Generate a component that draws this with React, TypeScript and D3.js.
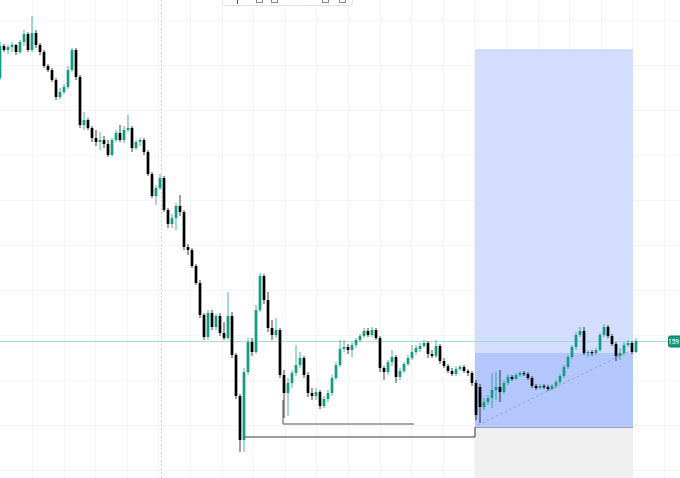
import { useEffect, useRef } from 'react';
import * as d3 from 'd3';

// candles: [open, high, low, close]
const candles: [number, number, number, number][] = [
  [422, 458, 420, 454], [454, 456, 448, 450], [450, 455, 446, 453], [453, 458, 448, 455],
  [455, 456, 445, 448], [448, 460, 446, 458], [458, 470, 454, 466], [466, 468, 448, 450],
  [450, 484, 448, 467], [467, 470, 452, 455], [455, 457, 445, 448], [448, 450, 432, 434],
  [434, 436, 428, 430], [430, 432, 418, 420], [420, 422, 400, 403], [403, 412, 401, 408],
  [408, 416, 406, 413], [413, 434, 411, 430], [430, 452, 428, 450], [450, 452, 420, 423],
  [423, 425, 372, 375], [375, 388, 370, 380], [380, 382, 370, 372], [372, 374, 358, 362],
  [362, 370, 354, 358], [358, 368, 350, 360], [360, 364, 352, 356], [356, 360, 343, 345],
  [345, 362, 344, 360], [360, 370, 358, 367], [367, 375, 358, 360], [360, 374, 357, 370],
  [370, 385, 368, 372], [372, 374, 348, 352], [352, 360, 350, 358], [358, 362, 354, 360],
  [360, 362, 345, 348], [348, 350, 324, 326], [326, 328, 302, 304], [304, 315, 295, 312],
  [312, 326, 310, 322], [322, 324, 288, 290], [290, 292, 272, 276], [276, 286, 272, 282],
  [282, 297, 270, 294], [294, 305, 284, 288], [288, 290, 250, 253], [253, 256, 245, 250],
  [250, 252, 232, 234], [234, 236, 215, 217], [217, 220, 182, 185], [185, 187, 160, 163],
  [163, 190, 160, 187], [187, 190, 170, 173], [173, 186, 170, 184], [184, 187, 164, 167],
  [167, 178, 160, 162], [162, 208, 160, 184], [184, 188, 142, 145], [145, 147, 101, 104],
  [104, 106, 48, 60], [60, 132, 48, 128], [128, 162, 125, 158], [158, 162, 144, 148],
  [148, 195, 146, 190], [190, 227, 188, 224], [224, 226, 196, 200], [200, 208, 168, 172],
  [172, 180, 160, 165], [165, 182, 162, 170], [170, 172, 122, 125], [125, 130, 82, 107],
  [107, 122, 84, 117], [117, 130, 112, 127], [127, 155, 124, 135], [135, 148, 132, 142],
  [142, 144, 122, 125], [125, 128, 103, 107], [107, 112, 100, 104], [104, 112, 100, 108],
  [108, 110, 91, 94], [94, 104, 92, 101], [101, 110, 98, 107], [107, 125, 104, 122],
  [122, 138, 120, 135], [135, 160, 133, 151], [151, 160, 148, 153], [153, 156, 146, 150],
  [150, 158, 143, 155], [155, 162, 152, 160], [160, 166, 158, 164], [164, 172, 162, 169],
  [169, 172, 163, 165], [165, 173, 163, 170], [170, 172, 160, 162], [162, 164, 128, 132],
  [132, 134, 120, 128], [128, 140, 125, 138], [138, 150, 134, 143], [143, 145, 117, 123],
  [123, 132, 120, 129], [129, 138, 127, 136], [136, 145, 134, 142], [142, 155, 140, 148],
  [148, 155, 145, 152], [151, 157, 148, 154], [154, 160, 152, 157], [157, 159, 142, 146],
  [146, 150, 142, 144], [144, 160, 142, 154], [154, 156, 136, 139], [139, 142, 132, 134],
  [134, 136, 127, 129], [129, 132, 124, 126], [126, 134, 124, 131], [131, 135, 129, 133],
  [133, 135, 127, 129], [129, 131, 124, 127], [127, 129, 114, 117], [117, 120, 80, 85],
  [113, 116, 77, 93], [93, 102, 90, 98], [98, 105, 95, 102], [102, 127, 92, 110],
  [110, 128, 100, 113], [113, 130, 98, 108], [108, 120, 106, 117], [117, 126, 115, 123],
  [123, 125, 119, 121], [121, 127, 120, 125], [125, 129, 123, 127], [127, 129, 124, 126],
  [126, 128, 120, 122], [122, 124, 112, 114], [114, 116, 110, 112], [112, 116, 111, 114],
  [114, 116, 111, 113], [113, 115, 109, 111], [111, 116, 110, 114], [114, 120, 112, 118],
  [118, 126, 116, 124], [124, 135, 122, 133], [133, 145, 131, 143], [143, 155, 141, 153],
  [153, 168, 150, 165], [165, 173, 163, 169], [169, 173, 145, 147], [147, 150, 143, 148],
  [148, 150, 144, 147], [147, 152, 145, 150], [150, 167, 148, 165], [165, 176, 163, 173],
  [173, 175, 162, 164], [164, 166, 154, 156], [156, 158, 139, 144], [144, 152, 140, 147],
  [147, 158, 145, 155], [155, 160, 153, 157], [157, 159, 146, 148], [148, 162, 147, 159],
];

const priceGrid = [480, 435, 390, 345, 300, 255, 210, 165, 120, 75, 30];
const timeGrid = [8, 15.9, 23.8, 31.7, 39.6, 47.5, 55.4, 63.3, 71.2, 79.1, 87, 94.9, 102.8,
  110.7, 118.6, 126.5, 134.4, 142.3, 150.2, 158.1, 166];
const sessionBreak = 40.25;

// long position tool (bar index / price)
const posStart = 118.75;
const posEnd = 158.25;
const posTarget = 450;
const posEntry = 147;
const posStop = 73;

// drawn support lines
const lowLine = { from: 60.75, to: 118.75, price: 63, up: 73 };
const midLine = { from: 70.75, to: 103.5, price: 76, up: 100 };
const trendLine = { from: 119.5, fromPrice: 75, to: 157, toPrice: 148 };

const UP = '#129c84';
const DOWN = '#000000';

export default function App() {
  const svgRef = useRef<SVGSVGElement>(null);

  useEffect(() => {
    if (!svgRef.current) return;
    const svg = d3.select(svgRef.current);
    svg.selectAll('*').remove();

    const width = 680;
    const height = 478;

    const x = d3.scaleLinear().domain([0, candles.length - 1]).range([0, 636]);
    const y = d3.scaleLinear().domain([500, 22]).range([0, height]);

    svg.append('rect').attr('width', width).attr('height', height).attr('fill', '#ffffff');

    // grid
    svg.append('g')
      .selectAll('line')
      .data(priceGrid)
      .enter()
      .append('line')
      .attr('x1', 0).attr('x2', width)
      .attr('y1', d => Math.round(y(d)) + 0.5).attr('y2', d => Math.round(y(d)) + 0.5)
      .attr('stroke', '#f3f4f6');

    svg.append('g')
      .selectAll('line')
      .data(timeGrid)
      .enter()
      .append('line')
      .attr('y1', 0).attr('y2', height)
      .attr('x1', d => Math.round(x(d)) + 0.5).attr('x2', d => Math.round(x(d)) + 0.5)
      .attr('stroke', '#f3f4f6');

    // session break
    svg.append('line')
      .attr('x1', Math.round(x(sessionBreak)) + 0.5).attr('x2', Math.round(x(sessionBreak)) + 0.5)
      .attr('y1', 0).attr('y2', height)
      .attr('stroke', '#d3d6dc')
      .attr('stroke-dasharray', '2,2');

    // long position box
    const bx = x(posStart);
    const bw = x(posEnd) - x(posStart);
    svg.append('rect')
      .attr('x', bx).attr('y', y(posTarget))
      .attr('width', bw).attr('height', y(posEntry) - y(posTarget))
      .attr('fill', '#d3defe');
    svg.append('line')
      .attr('x1', bx).attr('x2', bx + bw)
      .attr('y1', y(posTarget)).attr('y2', y(posTarget))
      .attr('stroke', '#b9cafc');
    svg.append('rect')
      .attr('x', bx).attr('y', y(posEntry))
      .attr('width', bw).attr('height', y(posStop) - y(posEntry))
      .attr('fill', '#b3c7fd');
    svg.append('rect')
      .attr('x', bx).attr('y', y(posStop))
      .attr('width', bw).attr('height', height - y(posStop))
      .attr('fill', '#efefef');
    svg.append('line')
      .attr('x1', bx).attr('x2', bx + bw)
      .attr('y1', Math.round(y(posStop)) + 0.5).attr('y2', Math.round(y(posStop)) + 0.5)
      .attr('stroke', '#9aa3b8');

    // last price line
    const last = candles[candles.length - 1][3];
    const ly = Math.round(y(last)) + 0.5;
    svg.append('line')
      .attr('x1', 0).attr('x2', width)
      .attr('y1', ly).attr('y2', ly)
      .attr('stroke', '#93d6c8')
      .attr('stroke-opacity', 0.8);

    // drawn lines
    const lineColor = '#3a3a3a';
    svg.append('path')
      .attr('d', `M${x(lowLine.from)},${y(lowLine.price)}H${x(lowLine.to)}V${y(lowLine.up)}`)
      .attr('fill', 'none').attr('stroke', lineColor).attr('stroke-width', 1);
    svg.append('path')
      .attr('d', `M${x(midLine.from)},${y(midLine.up)}V${y(midLine.price)}H${x(midLine.to)}`)
      .attr('fill', 'none').attr('stroke', '#555555').attr('stroke-width', 1);
    svg.append('line')
      .attr('x1', x(trendLine.from)).attr('y1', y(trendLine.fromPrice))
      .attr('x2', x(trendLine.to)).attr('y2', y(trendLine.toPrice))
      .attr('stroke', '#8e9ab8')
      .attr('stroke-dasharray', '2,3');

    // candles
    const g = svg.append('g');
    const cw = 2.7;
    candles.forEach((c, i) => {
      const [o, h, l, cl] = c;
      const color = cl >= o ? UP : DOWN;
      const cx = x(i);
      g.append('line')
        .attr('x1', cx).attr('x2', cx)
        .attr('y1', y(h)).attr('y2', y(l))
        .attr('stroke', color)
        .attr('stroke-opacity', 0.75)
        .attr('stroke-width', 1);
      const top = y(Math.max(o, cl));
      const bh = Math.max(1.2, Math.abs(y(o) - y(cl)));
      g.append('rect')
        .attr('x', cx - cw / 2).attr('y', top)
        .attr('width', cw).attr('height', bh)
        .attr('fill', color);
    });

    // price label at the right edge
    svg.append('rect')
      .attr('x', 668.5).attr('y', ly - 5.5)
      .attr('width', 20).attr('height', 11)
      .attr('rx', 2)
      .attr('fill', '#0f9b80')
      .attr('stroke', '#0a7a65');
    svg.append('text')
      .attr('x', 679).attr('y', ly + 2.5)
      .attr('text-anchor', 'end')
      .attr('fill', '#ffffff')
      .attr('font-family', 'Roboto, sans-serif')
      .attr('font-size', '6.5px')
      .text(String(last));

    // toolbar at the top
    const tb = svg.append('g');
    tb.append('rect')
      .attr('x', 222.5).attr('y', -8.5)
      .attr('width', 130).attr('height', 14)
      .attr('rx', 3)
      .attr('fill', '#ffffff')
      .attr('stroke', '#e0e3eb');
    tb.append('line')
      .attr('x1', 237.5).attr('x2', 237.5).attr('y1', 0).attr('y2', 4)
      .attr('stroke', '#555');
    [256, 271, 322, 339].forEach(px => {
      tb.append('rect')
        .attr('x', px + 0.5).attr('y', -2.5)
        .attr('width', 6).attr('height', 5)
        .attr('fill', 'none')
        .attr('stroke', '#888');
    });
  }, []);

  return (
    <svg
      ref={svgRef}
      width={680}
      height={478}
      style={{ position: 'fixed', left: 0, top: 0, display: 'block' }}
    ></svg>
  );
}
